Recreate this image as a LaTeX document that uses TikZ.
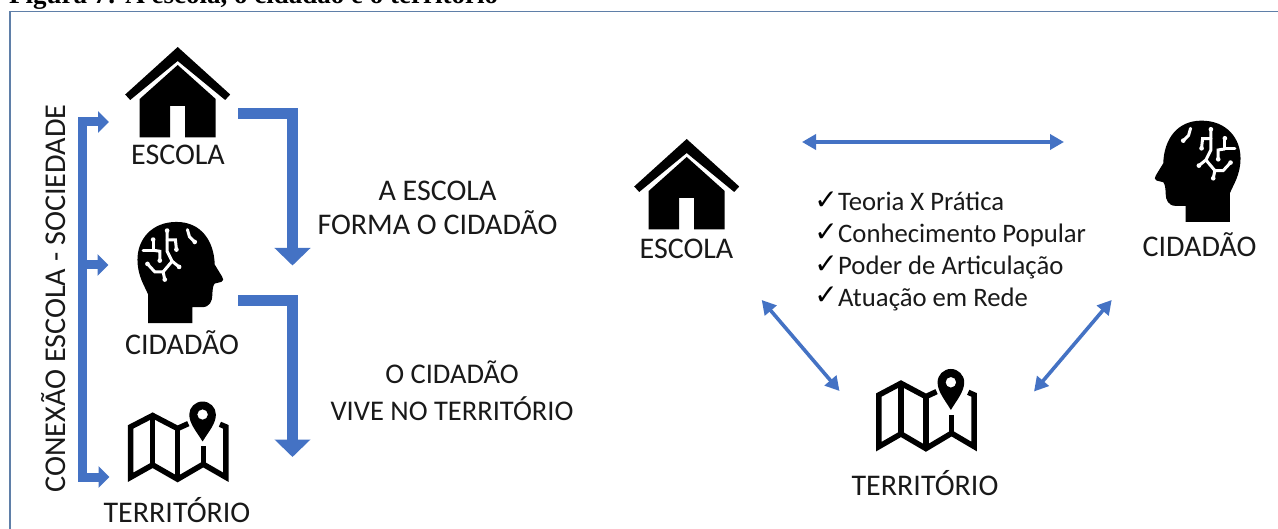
\documentclass[tikz,border=0pt]{standalone}
\usepackage{fontspec}
\setmainfont{Carlito}
\newfontfamily\titlefont{Liberation Serif}
\newfontfamily\checkfont{DejaVu Sans}
\usetikzlibrary{arrows.meta}
\definecolor{arrowblue}{HTML}{4472C4}
\definecolor{framecol}{HTML}{5F7FA8}
\tikzset{
  lab/.style={font=\fontsize{30}{33}\selectfont,text=black!90,inner sep=0pt,align=center},
  item/.style={font=\fontsize{26.7}{30}\selectfont,text=black!90,inner sep=0pt,anchor=base west},
  tick/.style={font=\checkfont\fontsize{28}{30}\selectfont,inner sep=0pt,anchor=base east},
  elbow/.style={draw=arrowblue,line width=11pt,-{Triangle[length=17.5pt,width=35pt]}},
  bracket/.style={draw=arrowblue,line width=9pt,-{Triangle[length=11pt,width=21pt]}},
  twoway/.style={draw=arrowblue,line width=3.6pt,{Triangle[length=14pt,width=15pt]}-{Triangle[length=14pt,width=15pt]}},
  house/.pic={
    \fill[black] (0,0)--(52.5,47.5)--(47.5,53)--(0,14)--(-47.5,53)--(-52.5,47.5)--cycle;
    \fill[black,even odd rule] (0,18)--(38,52)--(38,90.5)--(7.5,90.5)--(7.5,59)--(-7.5,59)--(-7.5,90.5)--(-38,90.5)--(-38,52)--cycle;
  },
  head/.pic={
    \fill[black] (257,366)--(257,318)--(228,318)
      .. controls (205,318) and (197,300) .. (197,280)
      .. controls (197,265) and (195,252) .. (190,247)
      -- (170,242) .. controls (163,240) and (163,232) .. (168,226)
      -- (190,190)
      .. controls (192,120) and (230,62) .. (305,62)
      .. controls (380,62) and (422,115) .. (422,175)
      .. controls (422,225) and (400,255) .. (390,280)
      -- (390,366) -- cycle;
    \begin{scope}[draw=white,fill=white,line width=3pt,line cap=round]
      \draw (250,122)--(266,106)--(272,85);
      \draw (333,88)--(333,150)--(318,180)--(297,197);
      \draw (318,180)--(345,212)--(340,235);
      \draw (345,212)--(370,212)--(392,188);
      \draw (305,145)--(308,116)--(333,116);
      \draw (375,115)--(375,147)--(405,147);
      \draw (375,147)--(355,150)--(355,178);
      \foreach \p in {(250,122),(333,88),(297,197),(340,235),(392,188),(305,145),(375,115),(355,178)}
        \fill \p circle (7);
    \end{scope}
  },
  foldmap/.pic={
    \draw[black,line width=5.5pt,miter limit=10]
      (290,125)--(258,140)--(183,100)--(117,135)--(117,290)--(183,252)--(258,296)--(335,250)--(403,290)--(403,135)--(385,127);
    \draw[black,line width=5.5pt] (183,100)--(183,252) (258,140)--(258,296) (335,195)--(335,250);
    \fill[black,even odd rule] (333,180) .. controls (315,150) and (293,125) .. (293,97)
      arc[start angle=180,end angle=360,radius=40]
      .. controls (373,125) and (351,150) .. (333,180) -- cycle
      (333,97) circle (16);
  },
}
\begin{document}
\begin{tikzpicture}[x=1pt,y=-1pt]
\useasboundingbox (0,0) rectangle (1278,529);
\fill[white] (0,0) rectangle (1278,529);
% title, cut by the top edge
\node[anchor=base west,inner sep=0pt,font=\titlefont\bfseries\fontsize{27}{29}\selectfont] (title) at (9,3.5) {Figura 7: A escola, o cidadão e o território};
% frame
\draw[framecol,line width=1.6pt] (1278,11.5)--(10,11.5)--(10,529);

% left column icons
\pic at (177.7,47) {house};
\pic[xscale=-0.333,yscale=0.333] at (278,201.3) {head};
\pic[xscale=0.333,yscale=0.325] at (91.7,383) {foldmap};
% left column labels
\node[lab] (escolaA) at (178,154.5) {ESCOLA};
\node[lab] (cidadaoA) at (182,343) {CIDADÃO};
\node[lab] (territorioA) at (177,510) {TERRITÓRIO};

\coordinate (e1s) at (238,113.5);
\coordinate (e1c) at (292.5,113.5);
\coordinate (e1t) at (292.5,265.5);
\coordinate (e2s) at (238,301);
\coordinate (e2c) at (292.5,301);
\coordinate (e2t) at (292.5,457);
\draw[elbow] (e1s)--(e1c)--(e1t);
\draw[elbow] (e2s)--(e2c)--(e2t);

\node[lab] (t1) at (437.5,208) {A ESCOLA\\[1pt]FORMA O CIDADÃO};
\node[lab,font=\fontsize{28.5}{31}\selectfont] (t2) at (452,391) {O CIDADÃO\\[6pt]VIVE NO TERRITÓRIO};

% bracket
\coordinate (b1) at (109,122);
\coordinate (b2) at (108.5,265);
\coordinate (b3) at (109.5,477);
\coordinate (bt) at (82.5,122);
\coordinate (bm) at (82.5,265);
\coordinate (bb) at (82.5,477);
\draw[bracket] (bt)--(b1);
\draw[bracket] (bm)--(b2);
\draw[bracket] (bb)--(b3);
\draw[draw=arrowblue,line width=9pt,line cap=rect] (bt)--(bb);
\node[lab,rotate=90,font=\fontsize{30.2}{33}\selectfont] (conexao) at (54,298.5) {CONEXÃO ESCOLA - SOCIEDADE};

% right part
\pic at (686.7,139) {house};
\pic[xscale=0.333,yscale=0.333] at (1100,100) {head};
\pic[xscale=0.333,yscale=0.333] at (840,350) {foldmap};
\node[lab] (escolaB) at (686.5,248.5) {ESCOLA};
\node[lab] (cidadaoB) at (1199.5,245) {CIDADÃO};
\node[lab] (territorioB) at (925,483.5) {TERRITÓRIO};

\coordinate (h1) at (802,142);
\coordinate (h2) at (1064,142);
\coordinate (dl1) at (761.7,300);
\coordinate (dl2) at (839.5,391);
\coordinate (dr1) at (1111.7,300);
\coordinate (dr2) at (1034,391.5);
\draw[twoway] (h1)--(h2);
\draw[twoway] (dl1)--(dl2);
\draw[twoway] (dr1)--(dr2);

% list
\node[item] (i1) at (838,211) {Teoria X Prática};
\node[item] (i2) at (838,243) {Conhecimento Popular};
\node[item] (i3) at (838,275) {Poder de Articulação};
\node[item] (i4) at (838,306.5) {Atuação em Rede};
\node[tick] (c1) at (838,209.5) {✓};
\node[tick] (c2) at (838,241.5) {✓};
\node[tick] (c3) at (838,273.5) {✓};
\node[tick] (c4) at (838,305) {✓};
\end{tikzpicture}
\end{document}
